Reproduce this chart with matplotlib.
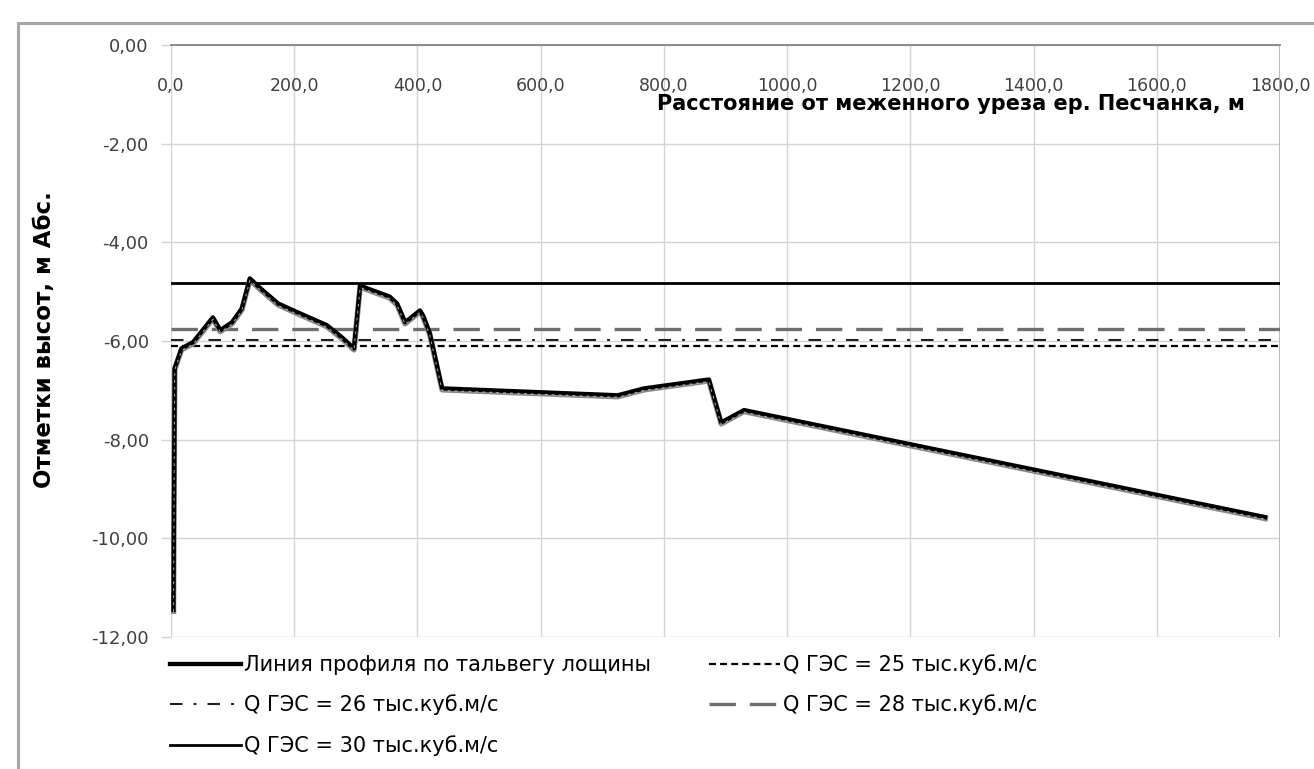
import numpy as np
import matplotlib
matplotlib.use("Agg")
import matplotlib.pyplot as plt
import matplotlib.transforms as mtransforms
from matplotlib.patches import Rectangle
from matplotlib.ticker import FuncFormatter, MultipleLocator

plt.rcParams['font.family'] = ['DejaVu Sans']
plt.rcParams['lines.scale_dashes'] = False

# Thalweg profile of the hollow: distance from the low-water edge (m) and elevation (m Abs.)
profile_x = [4, 6, 17, 36, 68, 80, 99, 115, 128, 145, 174, 204, 253, 277, 297,
             307, 318, 355, 367, 380, 404, 409, 420, 440, 725, 768, 873, 893, 930, 1776]
profile_y = [-11.45, -6.55, -6.15, -6.02, -5.52, -5.78, -5.62, -5.34, -4.73, -4.93,
             -5.24, -5.41, -5.68, -5.92, -6.15, -4.87, -4.93, -5.10, -5.24, -5.62,
             -5.38, -5.48, -5.84, -6.96, -7.10, -6.96, -6.78, -7.65, -7.40, -9.57]

# Water levels for different hydropower plant discharges
level_x = [0, 1800]
q_labels = ["Q ГЭС = 25 тыс.куб.м/с", "Q ГЭС = 26 тыс.куб.м/с",
            "Q ГЭС = 28 тыс.куб.м/с", "Q ГЭС = 30 тыс.куб.м/с"]
q_levels = [-6.10, -5.98, -5.75, -4.82]

profile_label = "Линия профиля по тальвегу лощины"
x_title = "Расстояние от меженного уреза ер. Песчанка, м"
y_title = "Отметки высот, м Абс."

W, H = 1314, 769
fig = plt.figure(figsize=(W / 100, H / 100), dpi=100)
ax = fig.add_axes([171 / W, 1 - 637 / H, (1280 - 171) / W, (637 - 45) / H])

# outer chart frame (runs off the right and bottom edges)
fig.patches.append(Rectangle((18 / W, -0.2), 1.5, 0.2 + 1 - 23 / H,
                             transform=fig.transFigure, fill=False,
                             edgecolor='#a6a6a6', lw=2.2, clip_on=False))

# profile: grey shadow, black line, light speckle
down1 = mtransforms.offset_copy(ax.transData, fig=fig, x=0, y=-1.4, units='dots')
down2 = mtransforms.offset_copy(ax.transData, fig=fig, x=0, y=-2.0, units='dots')
ax.plot(profile_x, profile_y, color='#8a8a8a', lw=4.0, transform=down1,
        solid_joinstyle='round', zorder=4)
prof, = ax.plot(profile_x, profile_y, color='black', lw=3.1,
                solid_joinstyle='round', zorder=5, label=profile_label)
ax.plot(profile_x, profile_y, color='white', lw=0.8, ls=(0, (2, 3)),
        alpha=0.6, transform=down2, zorder=6)

styles = [
    dict(color='black', lw=1.6, ls=(0, (5, 3))),
    dict(color='#202020', lw=1.5, ls=(0, (9, 8, 2, 8))),
    dict(color='#6e6e6e', lw=2.4, ls=(0, (19, 10))),
    dict(color='black', lw=2.0, ls='-'),
]
handles = []
for lvl, lab, st in zip(q_levels, q_labels, styles):
    h, = ax.plot(level_x, [lvl, lvl], label=lab, zorder=3, **st)
    handles.append(h)

ax.set_xlim(0, 1800)
ax.set_ylim(-12, 0)
ax.xaxis.set_major_locator(MultipleLocator(200))
ax.yaxis.set_major_locator(MultipleLocator(2))
ax.xaxis.set_major_formatter(FuncFormatter(lambda v, p: f"{v:.1f}".replace('.', ',')))
ax.yaxis.set_major_formatter(FuncFormatter(
    lambda v, p: f"{v:.2f}".replace('.', ',').replace('-0,00', '0,00')))

ax.grid(True, color='#d4d4d4', lw=1.0, zorder=0)
ax.set_axisbelow(True)
for s in ['left', 'bottom', 'right']:
    ax.spines[s].set_visible(False)
ax.spines['top'].set_color('#8c8c8c')
ax.spines['top'].set_linewidth(1.4)
ax.axvline(1800, color='#b0b0b0', lw=1.2, zorder=1)

# x ticks sit on the top line, labels hang inside the plot
ax.xaxis.set_ticks_position('top')
ax.tick_params(axis='x', length=0, pad=-36, labelsize=12.5, labelcolor='#404040')
ax.tick_params(axis='y', length=7, width=1, color='#d4d4d4', pad=9,
               labelsize=13, labelcolor='#404040')

ax.set_xlabel(x_title, fontsize=15, fontweight='bold', ha='right', va='center')
ax.xaxis.set_label_position('top')
ax.xaxis.set_label_coords((1245 - 171) / 1109, (637 - 110) / 592)

ax.set_ylabel(y_title, fontsize=16.5, fontweight='bold', va='center')
ax.yaxis.set_label_coords((45 - 171) / 1109, (637 - 340) / 592)

order = [prof, handles[1], handles[3], handles[0], handles[2]]
fig.legend(order, [h.get_label() for h in order], ncol=2, frameon=False,
           loc='upper left', bbox_to_anchor=(170 / W, 1 - 654 / H),
           fontsize=15, handlelength=3.4, handletextpad=0.15,
           labelspacing=0.95, columnspacing=2.8, borderaxespad=0, borderpad=0)

fig.savefig("out.png", dpi=100)
